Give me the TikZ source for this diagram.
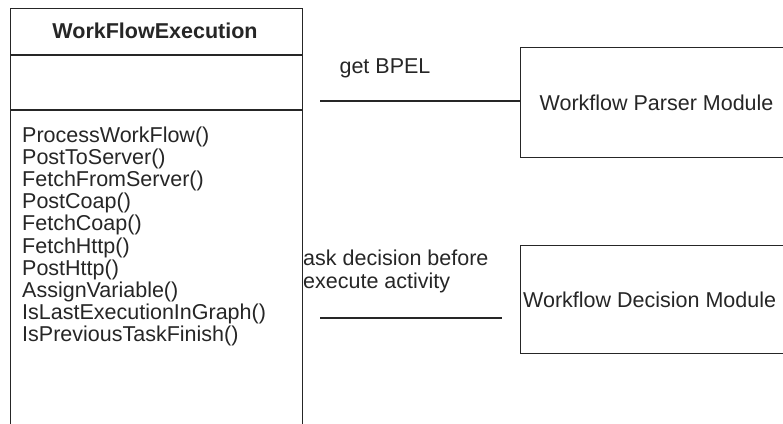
\documentclass[tikz,border=0pt]{standalone}
\usepackage{fontspec}
\setmainfont{Liberation Sans}
\begin{document}
\begin{tikzpicture}[x=1pt,y=-1pt,
  ln/.style={draw=black!85,line width=1.1pt},
  txt/.style={inner sep=0pt,font=\fontsize{21.5}{22.2}\selectfont,text=black!85},
  box/.style={ln,fill=white,inner sep=0pt,anchor=north west}]
\useasboundingbox (0,0) rectangle (783,423);
\clip (0,0) rectangle (783,423);
% class box
\node[box,minimum width=292pt,minimum height=445pt] (cls) at (10,8) {};
\draw[ln] (10,55) coordinate (h1) -- (302,55) coordinate (h2);
\draw[ln] (10,110) coordinate (a1) -- (302,110) coordinate (a2);
\node[txt,font=\fontsize{21.5}{22.2}\selectfont\bfseries] (title) at (155,31) {WorkFlowExecution};
\foreach \t [count=\i from 0] in {ProcessWorkFlow(),PostToServer(),FetchFromServer(),PostCoap(),FetchCoap(),FetchHttp(),PostHttp(),AssignVariable(),IsLastExecutionInGraph(),IsPreviousTaskFinish()}
  \node[txt,anchor=base west] (m\i) at (22,{142+22.2*\i}) {\t};
% modules
\node[box,minimum width=272pt,minimum height=110pt] (parser) at (520,47) {};
\node[txt] (ptxt) at (parser.center) {Workflow Parser Module};
\node[box,minimum width=290pt,minimum height=108pt] (decision) at (520,245) {};
\node[txt,anchor=west] (dtxt) at ([xshift=3pt]decision.west) {Workflow Decision Module};
% connectors
\coordinate (c1) at (320,101);
\draw[ln] (c1) -- (c1 -| parser.west);
\coordinate (c2a) at (320,318);
\coordinate (c2b) at (502,318);
\draw[ln] (c2a) -- (c2b);
% labels
\node[txt] (lbl1) at (385,68) {get BPEL};
\node[txt,anchor=base west] (lbl2a) at (303,265) {ask decision before};
\node[txt,anchor=base west] (lbl2b) at (303,288) {execute activity};
\end{tikzpicture}
\end{document}
